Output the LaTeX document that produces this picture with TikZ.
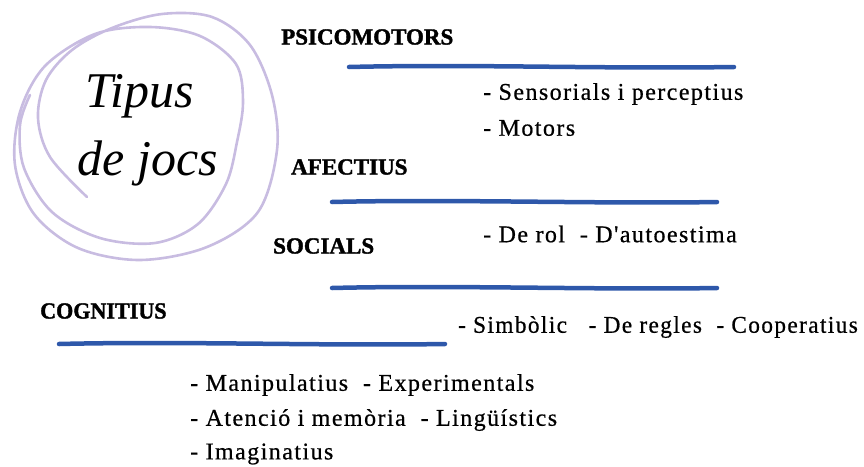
\documentclass[tikz,border=0pt]{standalone}
\usepackage{fontspec}
\setmainfont{Liberation Serif}
\newfontfamily\bodyfont[LetterSpace=6,FakeBold=0.6]{Liberation Serif}
\newfontfamily\headfont[FakeBold=1.6]{Liberation Serif}
\definecolor{brush}{RGB}{46,88,170}
\definecolor{lav}{RGB}{200,188,225}
\tikzset{
  heading/.style={anchor=west, inner sep=0pt, font=\headfont\bfseries\fontsize{23}{25}\selectfont},
  item/.style={anchor=west, inner sep=0pt, font=\bodyfont\fontsize{24}{26}\selectfont},
  stroke/.style={draw=brush, line width=4.5pt, line cap=round},
  scribble/.style={draw=lav, line width=2.6pt, line cap=round, line join=round},
  titletext/.style={inner sep=0pt, font=\itshape\fontsize{50}{52}\selectfont}
}
\begin{document}
\begin{tikzpicture}[x=1pt,y=-1pt]
\useasboundingbox (0,0) rectangle (864,466);
% scribbled circle
\draw[scribble] plot[smooth, tension=0.55] coordinates {
 (87,197) (50,157) (38,118) (46,80) (72,50) (112,28) (162,14) (212,17)
 (250,45) (272,95) (277,150) (258,212) (207,247) (140,260) (78,248) (34,214)
 (15,165) (20,112) (45,66) (95,34) (150,27) (200,36) (236,64) (243,102)
 (237,142) (226,184) (198,224) (155,243) (100,238) (52,212) (24,168) (20,125) (30,95)};
% title
\node[titletext] (t1) at (140,96) {Tipus};
\node[titletext] (t2) at (148,163) {de jocs};
% headings
\node[heading] (psi) at (281,37) {PSICOMOTORS};
\node[heading] (afe) at (291,167) {AFECTIUS};
\node[heading] (soc) at (273,246) {SOCIALS};
\node[heading, xscale=0.96] (cog) at (40,311) {COGNITIUS};
% brush strokes
\coordinate (l1a) at (349,67); \coordinate (l1b) at (734,67);
\coordinate (l2a) at (332,202); \coordinate (l2b) at (717,202);
\coordinate (l3a) at (332,288); \coordinate (l3b) at (717,288);
\coordinate (l4a) at (59,344); \coordinate (l4b) at (445,344);
\draw[stroke] (l1a) .. controls (470,64) and (600,69) .. (l1b);
\draw[stroke] (l2a) .. controls (450,199) and (600,204) .. (l2b);
\draw[stroke] (l3a) .. controls (450,285) and (600,290) .. (l3b);
\draw[stroke] (l4a) .. controls (180,341) and (320,346) .. (l4b);
% items
\node[item] (i1) at (483,94) {- Sensorials i perceptius};
\node[item] (i2) at (483,128) {- Motors};
\node[item] (i3) at (483,234) {- De rol\ \ - D'autoestima};
\node[item, xscale=0.97] (i4) at (458,327) {- Simbòlic\ \ \ - De regles\ \ - Cooperatius};
\node[item] (i5) at (190,385) {- Manipulatius\ \ - Experimentals};
\node[item] (i6) at (190,420) {- Atenció i memòria\ \ - Lingüístics};
\node[item] (i7) at (190,454) {- Imaginatius};
\end{tikzpicture}
\end{document}
